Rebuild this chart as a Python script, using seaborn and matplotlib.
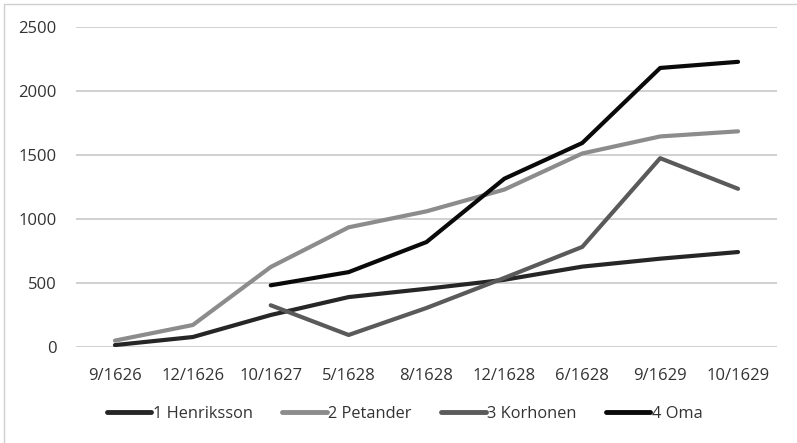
import matplotlib.pyplot as plt
import pandas as pd
import seaborn as sns
from matplotlib.lines import Line2D

dates = ["9/1626", "12/1626", "10/1627", "5/1628", "8/1628",
         "12/1628", "6/1628", "9/1629", "10/1629"]
henriksson = [15, 78, 250, 390, 455, 525, 628, 690, 742]
petander = [50, 172, 625, 935, 1060, 1230, 1512, 1645, 1685]
korhonen = [None, None, 326, 94, 305, 540, 782, 1475, 1236]
oma = [None, None, 482, 585, 820, 1315, 1594, 2180, 2228]

series_names = ["1 Henriksson", "2 Petander", "3 Korhonen", "4 Oma"]
series_colors = ["#262626", "#8c8c8c", "#5a5a5a", "#0a0a0a"]

frames = []
for name, values in zip(series_names, [henriksson, petander, korhonen, oma]):
    frames.append(pd.DataFrame({"date": dates, "value": values, "series": name}))
df = pd.concat(frames, ignore_index=True).dropna()

sns.set_style("white")
plt.rcParams["font.family"] = ["Open Sans", "DejaVu Sans"]

fig = plt.figure(figsize=(7.97, 4.43), dpi=100)
ax = fig.add_axes([76 / 797, 1 - 347 / 443, 701 / 797, 320 / 443])

sns.lineplot(data=df, x="date", y="value", hue="series", hue_order=series_names,
             palette=series_colors, linewidth=3.0, sort=False, ax=ax, legend=False)

ax.set_xlim(-0.5, len(dates) - 0.5)
ax.set_ylim(0, 2500)
ax.set_yticks(range(0, 2501, 500))
ax.set_xticks(range(len(dates)))
ax.set_xticklabels(dates)
ax.yaxis.grid(True, color="#c8c8c8", linewidth=1.2)
ax.set_axisbelow(True)
for s in ax.spines.values():
    s.set_visible(False)
ax.tick_params(axis="both", length=0, labelsize=12, labelcolor="#333333")
ax.tick_params(axis="x", pad=15)
ax.tick_params(axis="y", pad=14)
ax.set_xlabel("")
ax.set_ylabel("")

handles = [Line2D([0], [0], color=c, linewidth=3.5) for c in series_colors]
fig.legend(handles, series_names, loc="center", bbox_to_anchor=(0.508, 1 - 414 / 443),
           ncol=4, frameon=False, fontsize=11.8, handlelength=2.7, handletextpad=0.1,
           columnspacing=1.8, labelcolor="#333333")

# thin chart-area border (top and left)
fig.add_artist(Line2D([4 / 797, 1], [1 - 4 / 443, 1 - 4 / 443], color="#d0d0d0", linewidth=1))
fig.add_artist(Line2D([4 / 797, 4 / 797], [0, 1 - 4 / 443], color="#d0d0d0", linewidth=1))

fig.savefig("out.png", dpi=100)
